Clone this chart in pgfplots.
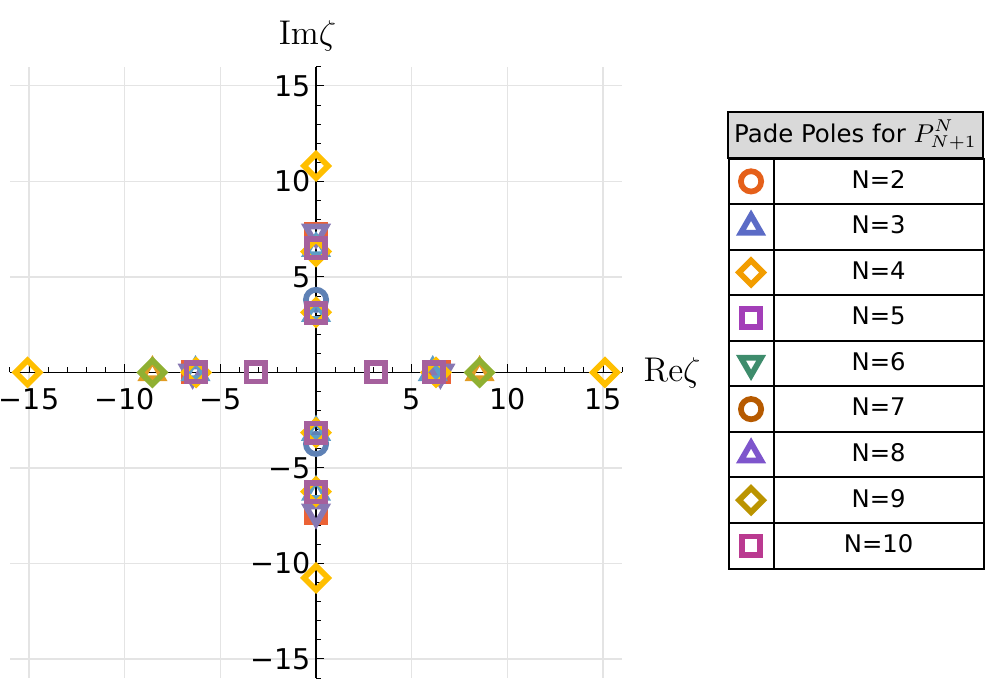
\documentclass[border=0pt]{standalone}
\usepackage[no-math]{fontspec}
\setmainfont{DejaVu Sans}
\usepackage{pgfplots}
\pgfplotsset{compat=1.18}

% plot colours
\definecolor{c1}{HTML}{5E81B5}
\definecolor{c2}{HTML}{E19C24}
\definecolor{c3}{HTML}{8FB032}
\definecolor{c4}{HTML}{EB6235}
\definecolor{c5}{HTML}{8778B3}
\definecolor{c7}{HTML}{5D9EC7}
\definecolor{c8}{HTML}{FFBF00}
\definecolor{c9}{HTML}{A5609D}
% legend colours
\definecolor{l2}{HTML}{E5601A}
\definecolor{l3}{HTML}{5B6BC6}
\definecolor{l4}{HTML}{F29D00}
\definecolor{l5}{HTML}{A33EB8}
\definecolor{l6}{HTML}{3E8C6C}
\definecolor{l7}{HTML}{B65A00}
\definecolor{l8}{HTML}{7E55CC}
\definecolor{l9}{HTML}{BB9400}
\definecolor{l10}{HTML}{BA3A90}
\definecolor{gridgray}{HTML}{E4E4E4}
\definecolor{headgray}{HTML}{D9D9D9}

\newcommand\tickfont{\fontsize{10}{12}\selectfont}
\newcommand\labfont{\fontsize{11.6}{14}\selectfont}
\newcommand\legfont{\fontsize{8.5}{10}\selectfont}
\newcommand\headfont{\fontsize{8.55}{10.2}\selectfont}

\pgfplotsset{
  circ/.style={mark=o, mark size=3.55pt, line width=2pt},
  tri/.style={mark=triangle, mark size=4.1pt, line width=2pt},
  dtri/.style={mark=triangle, mark size=4.1pt, line width=2pt, mark options={rotate=180}},
  diam/.style={mark=square, mark size=2.97pt, line width=2pt, mark options={rotate=45}},
  sq/.style={mark=square, mark size=3.2pt, line width=2pt},
}

\begin{document}
\begin{tikzpicture}
\begin{axis}[
  scale only axis,
  width=214.27pt, height=213.92pt,
  xmin=-16, xmax=16, ymin=-16, ymax=16,
  axis lines=middle,
  axis on top,
  clip=false,
  axis line style={black, line width=0.5pt, -},
  every inner x axis line/.append style={-},
  every inner y axis line/.append style={-},
  xtick={-15,-10,-5,5,10,15},
  xticklabels={−15,−10,−5,5,10,15},
  ytick={-15,-10,-5,5,10,15},
  yticklabels={−15,−10,−5,5,10,15},
  minor xtick={-16,...,16},
  minor ytick={-16,...,16},
  tick align=inside,
  major tick length=2.8pt,
  minor tick length=1.75pt,
  tick style={black, line width=0.35pt},
  grid=major,
  major grid style={gridgray, line width=0.4pt},
  tick label style={font=\tickfont},
  xticklabel style={yshift=-2pt},
  yticklabel style={xshift=1.8pt},
  xlabel={$\mathrm{Re}\zeta$},
  ylabel={$\mathrm{Im}\zeta$},
  every axis x label/.style={at={(axis description cs:1,0.5)}, anchor=west,
    inner sep=0pt, xshift=7.3pt, font=\labfont},
  every axis y label/.style={at={(axis description cs:0.5,1)}, anchor=base,
    inner sep=0pt, yshift=7.7pt, xshift=-3pt, font=\labfont},
  legend image code/.code={
    \draw[black, solid, line width=0.7pt] (-7.875pt,-7.97pt) rectangle (7.875pt,7.97pt);
    \draw[#1] plot coordinates {(0pt,0pt)};
  },
  legend style={at={(axis description cs:1.1712,0.8524)}, anchor=north west,
    draw=none, fill=none, inner sep=0pt, row sep=-0.7pt, column sep=-0.7pt,
    nodes={anchor=west, text width=73.5pt, align=center, minimum height=15.94pt,
      inner xsep=0pt, inner ysep=0pt, draw=black, line width=0.7pt, font=\legfont},
    cells={anchor=west}},
]
% poles, one plot per colour
\addplot[forget plot, only marks, circ, color=c1] coordinates {(0,3.8) (0,-3.74)};
\addplot[forget plot, only marks, tri, color=c2] coordinates {(8.55,0) (-8.55,0)};
\addplot[forget plot, only marks, diam, color=c3] coordinates {(8.55,0) (-8.55,0)};
\addplot[forget plot, only marks, sq, color=c4] coordinates {(0,7.25) (0,-7.36) (6.43,0) (-6.43,0)};
\addplot[forget plot, only marks, dtri, color=c5] coordinates {(0,7.33) (0,-7.32) (6.5,0) (-6.45,0)};
\addplot[forget plot, only marks, tri, color=c7] coordinates {(0,6.5) (0,-6.26) (0,3.1) (0,-3.12) (6.1,0) (-6.3,0)};
\addplot[forget plot, only marks, diam, color=c8] coordinates {(0,10.81) (0,-10.76) (15.1,0) (-15.08,0) (0,6.33) (0,-6.24) (0,3.15) (0,-3.15) (6.27,0) (-6.27,0)};
\addplot[forget plot, only marks, sq, color=c9] coordinates {(3.14,0) (-3.15,0) (6.16,0) (-6.29,0) (0,3.12) (0,-3.15) (0,6.5) (0,-6.28)};

% legend table
\addlegendimage{circ, color=l2}\addlegendentry{N=2}
\addlegendimage{tri, color=l3}\addlegendentry{N=3}
\addlegendimage{diam, color=l4}\addlegendentry{N=4}
\addlegendimage{sq, color=l5}\addlegendentry{N=5}
\addlegendimage{dtri, color=l6}\addlegendentry{N=6}
\addlegendimage{circ, color=l7}\addlegendentry{N=7}
\addlegendimage{tri, color=l8}\addlegendentry{N=8}
\addlegendimage{diam, color=l9}\addlegendentry{N=9}
\addlegendimage{sq, color=l10}\addlegendentry{N=10}

\node[draw=black, line width=0.7pt, fill=headgray, anchor=south west,
  minimum width=89.25pt, minimum height=16.1pt, inner sep=0pt, font=\headfont,
  yshift=-0.7pt] at (axis description cs:1.1712,0.8524)
  {Pade Poles for $P^{N}_{N+1}$};
\end{axis}
\pgfresetboundingbox
\path[use as bounding box] ([shift={(-3.465pt,-1.0pt)}]current axis.south west)
  rectangle ([shift={(130.83pt,23.38pt)}]current axis.north east);
\end{tikzpicture}
\end{document}
